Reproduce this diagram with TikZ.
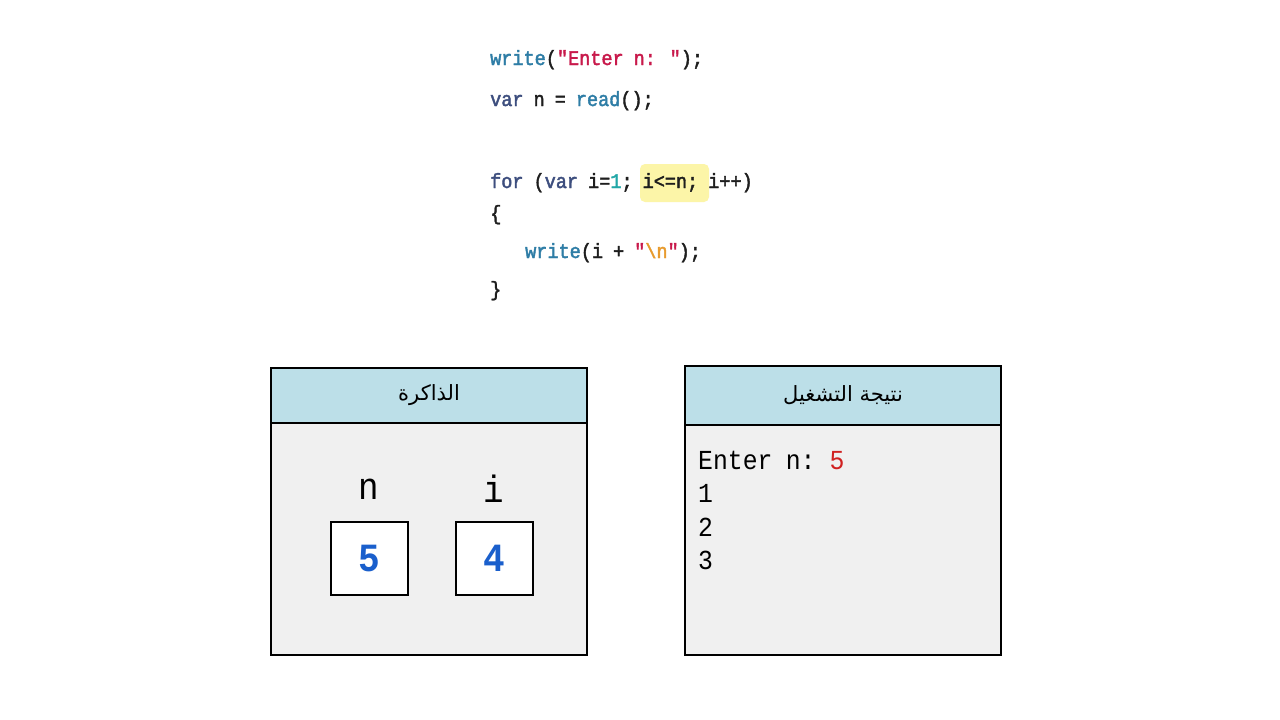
\documentclass[tikz,border=0pt]{standalone}
\usepackage{fontspec}
\TeXXeTstate=1
\newfontfamily\codefont[FakeStretch=0.9,WordSpace={0.9,0,0}]{Liberation Mono}
\newfontfamily\codeboldfont[FakeStretch=0.9,WordSpace={0.9,0,0},FakeBold=2]{Liberation Mono}
\newfontfamily\arabicfont[Script=Arabic]{DejaVu Sans}
\definecolor{kwa}{HTML}{2E7DA6}
\definecolor{kwb}{HTML}{3D4E7E}
\definecolor{strc}{HTML}{C8194B}
\definecolor{numc}{HTML}{21A7A7}
\definecolor{escc}{HTML}{E89B2E}
\definecolor{plainc}{HTML}{1E1E1E}
\definecolor{headc}{HTML}{BCDFE8}
\definecolor{bodyc}{HTML}{F0F0F0}
\definecolor{hlc}{HTML}{FCF5A8}
\definecolor{bluec}{HTML}{1A5FCC}
\definecolor{redc}{HTML}{D02020}
\tikzset{
  codeline/.style={anchor=base west,inner sep=0pt,text=plainc,font=\codeboldfont\fontsize{20.6}{24}\selectfont},
  outline/.style={anchor=base west,inner sep=0pt,text=black,font=\codefont\fontsize{27.5}{32}\selectfont},
  panelhead/.style={draw=black,line width=2.5pt,fill=headc,minimum width=316pt,inner sep=0pt},
  panelbody/.style={draw=black,line width=2.5pt,fill=bodyc,minimum width=316pt,inner sep=0pt},
  valbox/.style={draw=black,line width=2pt,fill=white,minimum width=77pt,minimum height=73pt,inner sep=0pt,text=bluec,font=\codefont\bfseries\fontsize{40}{44}\selectfont},
  varname/.style={inner sep=0pt,text=black,font=\codefont\fontsize{38}{42}\selectfont},
  title/.style={inner sep=0pt,text=black,font=\arabicfont\fontsize{21}{26}\selectfont}
}
\begin{document}
\begin{tikzpicture}[x=1pt,y=-1pt]
\useasboundingbox[fill=white] (0,0) rectangle (1280,720);
% highlight
\node[fill=hlc,rounded corners=5pt,minimum width=69pt,minimum height=38pt,inner sep=0pt] (hl) at (674.5,183) {};
% code
\node[codeline] (c1) at (490,65) {\textcolor{kwa}{write}(\textcolor{strc}{"Enter n: "});};
\node[codeline] (c2) at (490,106) {\textcolor{kwb}{var} n = \textcolor{kwa}{read}();};
\node[codeline] (c3) at (490,188) {\textcolor{kwb}{for} (\textcolor{kwb}{var} i=\textcolor{numc}{1}; i<=n; i++)};
\node[codeline] (c4) at (490,220) {\{};
\node[codeline] (c5) at (525,258) {\textcolor{kwa}{write}(i + \textcolor{strc}{"}\textcolor{escc}{\textbackslash n}\textcolor{strc}{"});};
\node[codeline] (c6) at (490,296) {\}};
% memory panel
\node[panelbody,minimum height=232pt] (membody) at (429,539) {};
\node[panelhead,minimum height=55pt] (memhead) at (429,395.5) {};
\node[title] (memtitle) at (memhead.center) {\beginR الذاكرة\endR};
\node[varname] (nlab) at (369,489) {n};
\node[varname] (ilab) at (494,489) {i};
\node[valbox] (nbox) at (369.5,558.5) {5};
\node[valbox] (ibox) at (494.5,558.5) {4};
% output panel
\node[panelbody,minimum height=230pt] (outbody) at (843,540) {};
\node[panelhead,minimum height=59pt] (outhead) at (843,395.5) {};
\node[title] (outtitle) at (outhead.center) {\beginR نتيجة التشغيل\endR};
\node[outline] (o1) at (698,469) {Enter n:\hspace{14pt}\textcolor{redc}{5}};
\node[outline] (o2) at (698,502) {1};
\node[outline] (o3) at (698,536) {2};
\node[outline] (o4) at (698,569) {3};
\end{tikzpicture}
\end{document}
